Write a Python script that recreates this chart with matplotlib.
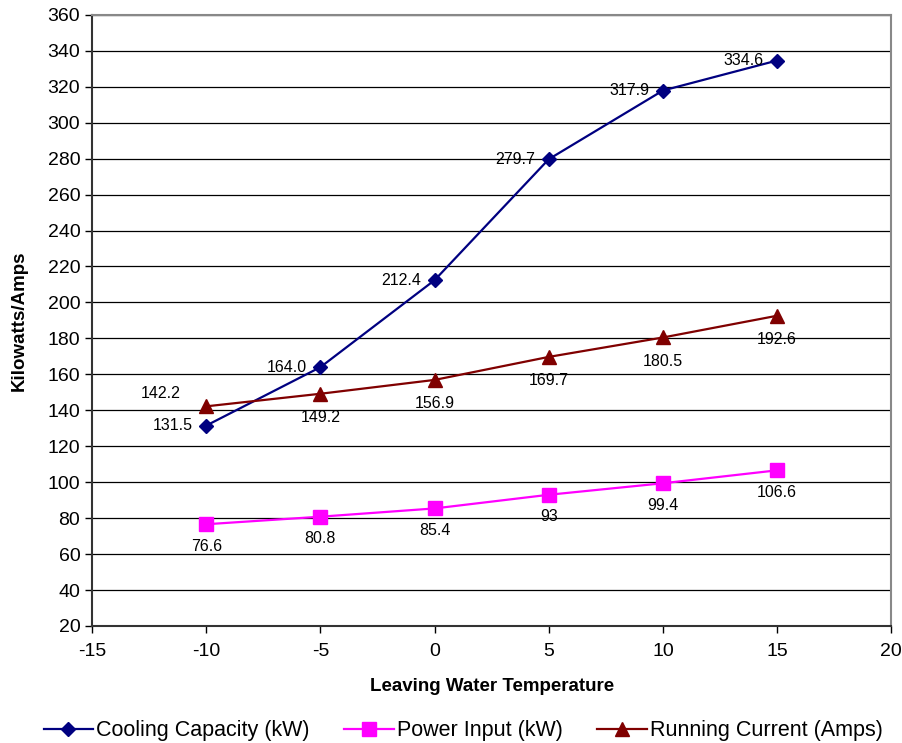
import matplotlib.pyplot as plt
from matplotlib.ticker import MultipleLocator

plt.rcParams['font.family'] = ['Liberation Sans', 'DejaVu Sans']
plt.rcParams['axes.unicode_minus'] = False

temp = [-10, -5, 0, 5, 10, 15]
cooling = [131.5, 164.0, 212.4, 279.7, 317.9, 334.6]
power = [76.6, 80.8, 85.4, 93, 99.4, 106.6]
current = [142.2, 149.2, 156.9, 169.7, 180.5, 192.6]
power_txt = ['76.6', '80.8', '85.4', '93', '99.4', '106.6']

fig = plt.figure(figsize=(9.03, 7.43), dpi=100)
ax = fig.add_axes([0.102, 0.1575, 0.885, 0.8225])

ax.plot(temp, cooling, color='#000080', marker='D', markersize=7.5, lw=1.6,
        label='Cooling Capacity (kW)')
ax.plot(temp, power, color='#ff00ff', marker='s', markersize=10, lw=1.6,
        label='Power Input (kW)')
ax.plot(temp, current, color='#800000', marker='^', markersize=10, lw=1.6,
        label='Running Current (Amps)')

# data labels
fs = 11.5
for x, v in zip(temp, cooling):
    ax.annotate('%.1f' % v, (x, v), xytext=(-10, 0), textcoords='offset points',
                ha='right', va='center', fontsize=fs)
for x, v, t in zip(temp, power, power_txt):
    ax.annotate(t, (x, v), xytext=(0, -16), textcoords='offset points',
                ha='center', va='center', fontsize=fs)
for i, (x, v) in enumerate(zip(temp, current)):
    if i == 0:
        ax.annotate('%.1f' % v, (x, v), xytext=(-33, 9), textcoords='offset points',
                    ha='center', va='center', fontsize=fs)
    else:
        ax.annotate('%.1f' % v, (x, v), xytext=(0, -17), textcoords='offset points',
                    ha='center', va='center', fontsize=fs)

ax.set_xlim(-15, 20)
ax.set_ylim(20, 360)
ax.xaxis.set_major_locator(MultipleLocator(5))
ax.yaxis.set_major_locator(MultipleLocator(20))
ax.grid(axis='y', color='black', lw=0.9)
ax.set_axisbelow(True)
ax.tick_params(labelsize=14, direction='out', length=5, width=1)
ax.tick_params(axis='x', pad=7)

for s in ['top', 'right']:
    ax.spines[s].set_color('#888888')
    ax.spines[s].set_linewidth(1.5)
for s in ['left', 'bottom']:
    ax.spines[s].set_color('#333333')
    ax.spines[s].set_linewidth(1.5)

ax.set_xlabel('Leaving Water Temperature', fontsize=13.5, fontweight='bold')
ax.set_ylabel('Kilowatts/Amps', fontsize=13.5, fontweight='bold')
ax.xaxis.set_label_coords(0.5, -0.085)
ax.yaxis.set_label_coords(-0.08, 0.5)

fig.legend(loc='lower center', bbox_to_anchor=(0.513, -0.024), ncol=3, frameon=False,
           fontsize=15.5, handlelength=2.3, handletextpad=0.15, columnspacing=1.6)

fig.savefig('out.png', dpi=100)
